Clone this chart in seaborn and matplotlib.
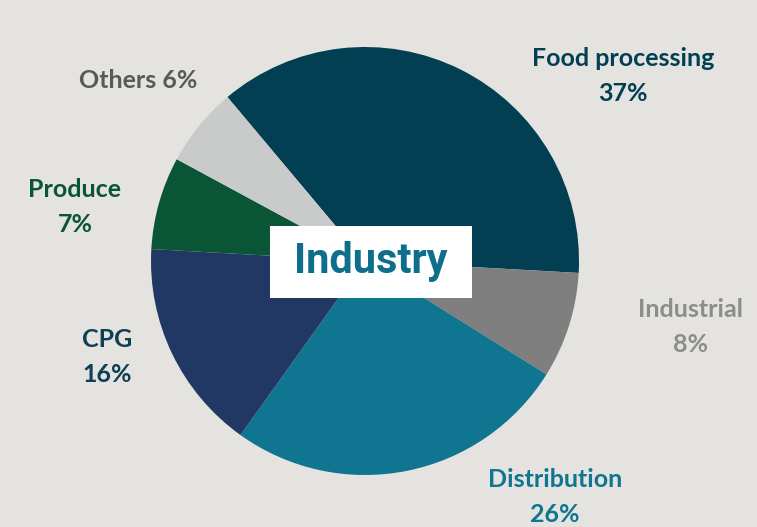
import matplotlib
matplotlib.use("Agg")
import matplotlib.pyplot as plt
import seaborn as sns

# data
segments = ["Food processing", "Industrial", "Distribution", "CPG", "Produce", "Others"]
shares = [37, 8, 26, 16, 7, 6]
label_texts = ["Food processing\n37%", "Industrial\n8%", "Distribution\n26%",
               "CPG\n16%", "Produce\n7%", "Others 6%"]
center_title = "Industry"

# styling
wedge_colors = ["#023f52", "#7f7f7f", "#0f7591", "#213864", "#0a5535", "#c9cbca"]
label_colors = ["#023f52", "#8c8c8c", "#0f7591", "#0e3f52", "#0a5535", "#595959"]
# label centres in pixels (x, y from top)
label_px = [(623, 76), (690, 327), (555, 497), (107, 357), (75, 207), (138, 80)]

W, H = 757, 527
bg = "#e4e3df"

sns.set_theme(style="white", rc={"figure.facecolor": bg, "axes.facecolor": bg})
plt.rcParams["font.family"] = ["Lato", "DejaVu Sans"]

fig = plt.figure(figsize=(W / 100, H / 100), dpi=100)
cx, cy, r = 365, 261, 214
ax = fig.add_axes([(cx - r) / W, (H - cy - r) / H, 2 * r / W, 2 * r / H])

ax.pie(shares, colors=wedge_colors, startangle=130, counterclock=False,
       radius=1, center=(0, 0), wedgeprops=dict(linewidth=0))
ax.set_xlim(-1, 1)
ax.set_ylim(-1, 1)
ax.axis("off")

for txt, col, (px, py) in zip(label_texts, label_colors, label_px):
    fig.text(px / W, 1 - py / H, txt, ha="center", va="center", color=col,
             fontsize=18, fontweight="bold", linespacing=1.6)

# white box with the title in the middle
fig.patches.append(plt.Rectangle((270 / W, 1 - 298 / H), 202 / W, 72 / H,
                                 transform=fig.transFigure, facecolor="white",
                                 edgecolor="none", zorder=5))
fig.text(371 / W, 1 - 262 / H, center_title, ha="center", va="center",
         color="#0e6e8c", fontsize=30, fontweight="bold",
         family=["Roboto", "DejaVu Sans"], zorder=6)

fig.savefig("out.png", dpi=100, facecolor=bg)
